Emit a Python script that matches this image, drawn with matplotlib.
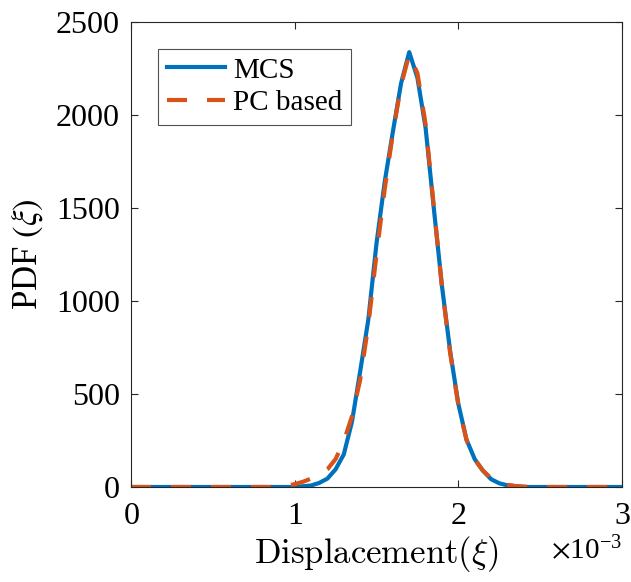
import numpy as np
import matplotlib
matplotlib.use("Agg")
import matplotlib.pyplot as plt

plt.rcParams['font.family'] = ['Liberation Serif', 'DejaVu Serif']
plt.rcParams['mathtext.fontset'] = 'stix'

# MCS curve (displacement in units of 1e-3)
disp_mcs = np.array([0.0, 1.00, 1.10, 1.15, 1.20, 1.25, 1.30, 1.35, 1.40, 1.45,
                     1.50, 1.55, 1.60, 1.65, 1.70, 1.75, 1.80, 1.85, 1.90, 1.95,
                     2.00, 2.05, 2.10, 2.15, 2.20, 2.25, 2.30, 2.40, 3.00]) * 1e-3
pdf_mcs = np.array([0, 0, 8, 22, 45, 95, 175, 350, 620, 900,
                    1310, 1640, 1910, 2170, 2338, 2200, 1930, 1500, 1080, 730,
                    447, 255, 150, 88, 42, 20, 9, 0, 0])

# PC based curve
disp_pc = np.array([0.0, 0.85, 0.90, 0.95, 1.00, 1.05, 1.10, 1.15, 1.20, 1.25,
                    1.30, 1.35, 1.40, 1.45, 1.50, 1.55, 1.60, 1.65, 1.70, 1.75,
                    1.80, 1.85, 1.90, 1.95, 2.00, 2.05, 2.10, 2.15, 2.20, 2.25,
                    2.30, 2.35, 2.45, 3.00]) * 1e-3
pdf_pc = np.array([0, 0, 3, 8, 15, 28, 45, 65, 95, 150,
                   245, 380, 575, 870, 1250, 1600, 1900, 2160, 2325, 2225,
                   1950, 1510, 1075, 720, 440, 252, 148, 88, 47, 26,
                   12, 5, 0, 0])

fig = plt.figure(figsize=(6.31, 5.82), dpi=100)
ax = fig.add_axes([131 / 631, 95 / 582, 491 / 631, 465 / 582])

ax.plot(disp_mcs, pdf_mcs, color='#0072BD', lw=3.0, label='MCS')
ax.plot(disp_pc, pdf_pc, color='#D95319', lw=3.0, ls=(0, (4.8, 4.8)), label='PC based')

ax.set_xlim(0, 3e-3)
ax.set_ylim(0, 2500)
ax.set_xticks([0, 1e-3, 2e-3, 3e-3])
ax.set_yticks([0, 500, 1000, 1500, 2000, 2500])
ax.ticklabel_format(axis='x', style='sci', scilimits=(-3, -3), useMathText=True)
ax.xaxis.get_offset_text().set_fontsize(21)

ax.tick_params(direction='in', top=True, right=True, labelsize=23,
               color='#262626', length=5, width=0.8)
ax.tick_params(axis='x', pad=11)
ax.tick_params(axis='y', pad=8)
for s in ax.spines.values():
    s.set_color('#262626')
    s.set_linewidth(0.8)

ax.set_xlabel(r'$\mathrm{Displacement}(\xi)$', fontsize=25, labelpad=2,
              math_fontfamily='cm')
ax.set_ylabel(r'PDF $(\xi)$', fontsize=25, labelpad=8)

leg = ax.legend(loc='upper left', bbox_to_anchor=(0.055, 0.943), fontsize=21,
                frameon=True, fancybox=False, edgecolor='#262626',
                handlelength=2.0, handletextpad=0.27, borderpad=0.3,
                labelspacing=0.2, borderaxespad=0)
leg.get_frame().set_linewidth(0.8)

fig.savefig('out.png', dpi=100)
